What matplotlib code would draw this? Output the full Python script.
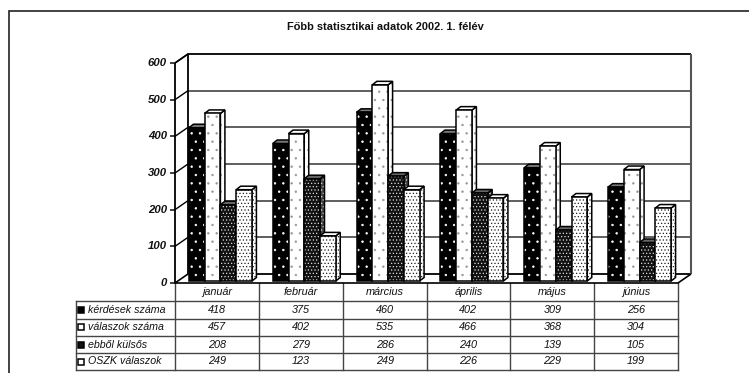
import matplotlib
matplotlib.use("Agg")
import matplotlib.pyplot as plt
from matplotlib.patches import Polygon, Rectangle

plt.rcParams['font.family'] = ['Liberation Sans', 'DejaVu Sans']
plt.rcParams['hatch.linewidth'] = 0.5

months = ["január", "február", "március", "április", "május", "június"]
series_names = ["kérdések száma", "válaszok száma", "ebből külsős", "OSZK válaszok"]
kerdesek = [418, 375, 460, 402, 309, 256]
valaszok = [457, 402, 535, 466, 368, 304]
kulsos = [208, 279, 286, 240, 139, 105]
oszk = [249, 123, 249, 226, 229, 199]
all_series = [kerdesek, valaszok, kulsos, oszk]
y_ticks = [0, 100, 200, 300, 400, 500, 600]

W, H = 749, 373
fig = plt.figure(figsize=(W / 100, H / 100), dpi=100)
fig.patch.set_facecolor("white")

# Front plane of the 3D box; x in categories, y in values
x0, x1, y0, y1 = 175, 678, 283, 63
ax = fig.add_axes([x0 / W, 1 - y0 / H, (x1 - x0) / W, (y0 - y1) / H])
ax.set_xlim(0, 6)
ax.set_ylim(0, 600)
ax.axis("off")

ux = 6 / (x1 - x0)            # categories per pixel
uy = 600 / (y0 - y1)          # value units per pixel
depth_x, depth_y = 13 * ux, 9 * uy


def poly(points, z=2, **kw):
    kw.setdefault("clip_on", False)
    p = Polygon(points, closed=True, zorder=z, **kw)
    ax.add_patch(p)
    return p


def line(xs, ys, z=1, color="black", lw=1.0):
    ax.plot(xs, ys, color=color, lw=lw, zorder=z, clip_on=False, solid_capstyle="butt")


# Gridlines along the back and side walls, ticks with labels on the left
for v in y_ticks:
    if 0 < v < 600:
        line([depth_x, 6 + depth_x], [v + depth_y, v + depth_y], color="#333333", lw=1.1)
    if v > 0:
        line([0, depth_x], [v, v + depth_y], lw=1.0)
    line([-5 * ux, 0], [v, v], lw=1.3, color="#333333")
    ax.text(-8 * ux, v, str(v), ha="right", va="center", fontsize=8.2,
            fontweight="bold", style="italic", color="#111111")

# Walls and floor
line([6 + depth_x, depth_x, depth_x, 6 + depth_x],
     [600 + depth_y, 600 + depth_y, depth_y, depth_y], lw=1.3)
line([6 + depth_x, 6 + depth_x], [depth_y, 600 + depth_y], lw=1.5, color="#555555")
line([0, 0], [0, 600], lw=1.3)
line([0, depth_x], [600, 600 + depth_y], lw=1.2)
line([0, depth_x], [0, depth_y], lw=1.2)
line([6, 6 + depth_x], [0, depth_y], lw=1.2)

# Fill, dot colour, hatch density and top-face colour per series
styles = [
    dict(face="black", dots="white", hatch="..", top="#777777", side="#111111"),
    dict(face="white", dots="#999999", hatch="..", top="white", side="white"),
    dict(face="#111111", dots="#dddddd", hatch=".....", top="#666666", side="#444444"),
    dict(face="white", dots="#222222", hatch=".....", top="white", side="white"),
]

bar_w = 15.75 * ux
off_x, off_y = 3.5 * ux, 2 * uy     # bars stand a little inside the floor
bar_dx, bar_dy = 4.5 * ux, 3.5 * uy

for s, (values, st) in enumerate(zip(all_series, styles)):
    for i, v in enumerate(values):
        l = i + 0.5 - 2 * bar_w + s * bar_w + off_x
        r = l + bar_w
        b = off_y
        t = v + off_y
        z = 3 + s + i * 10
        side = [(r, b), (r + bar_dx, b + bar_dy), (r + bar_dx, t + bar_dy), (r, t)]
        top = [(l, t), (l + bar_dx, t + bar_dy), (r + bar_dx, t + bar_dy), (r, t)]
        front = [(l, b), (r, b), (r, t), (l, t)]
        poly(side, z, fc=st["side"], ec=st["dots"], hatch=st["hatch"], lw=0)
        poly(side, z, fill=False, ec="black", lw=1.1)
        poly(top, z, fc=st["top"], ec="black", lw=1.1)
        poly(front, z, fc=st["face"], ec=st["dots"], hatch=st["hatch"], lw=0)
        poly(front, z, fill=False, ec="black", lw=1.1)

# Overlay in pixel coordinates for the frame, title and data table
tab = fig.add_axes([0, 0, 1, 1])
tab.set_xlim(0, W)
tab.set_ylim(H, 0)
tab.axis("off")
tab.patch.set_alpha(0)

# Chart frame: runs off the right and bottom of the image
tab.plot([8.5, 8.5, W], [H, 11, 11], color="#222222", lw=1.2, solid_joinstyle="miter")

col_w = (x1 - x0) / 6
row_y = [283, 301, 318.5, 336, 353, 370]
grey = "#444444"
for k in range(7):
    tab.plot([x0 + k * col_w] * 2, [row_y[0], row_y[-1]], color=grey, lw=1.0)
tab.plot([76, 76], [row_y[1], row_y[-1]], color=grey, lw=1.0)
tab.plot([x0, x1], [row_y[0]] * 2, color="black", lw=1.2)
for y in row_y[1:]:
    tab.plot([76, x1], [y, y], color=grey, lw=1.0)

for k, m in enumerate(months):
    tab.text(x0 + (k + 0.5) * col_w, (row_y[0] + row_y[1]) / 2, m, ha="center", va="center",
             fontsize=7.8, style="italic", color="#111111")

for r, (name, values, st) in enumerate(zip(series_names, all_series, styles)):
    cy = (row_y[r + 1] + row_y[r + 2]) / 2
    tab.add_patch(Rectangle((78, cy - 3), 6, 6, fc=st["face"], ec="black", lw=1.1))
    tab.text(88, cy, name, ha="left", va="center", fontsize=7.7, style="italic", color="#111111")
    for k, v in enumerate(values):
        tab.text(x0 + (k + 0.5) * col_w, cy, str(v), ha="center", va="center",
                 fontsize=7.8, style="italic", color="#111111")

tab.text(385.5, 26.5, "Főbb statisztikai adatok 2002. 1. félév", ha="center", va="center",
         fontsize=7.9, fontweight="bold", color="#111111")

fig.savefig("out.png", dpi=100)
